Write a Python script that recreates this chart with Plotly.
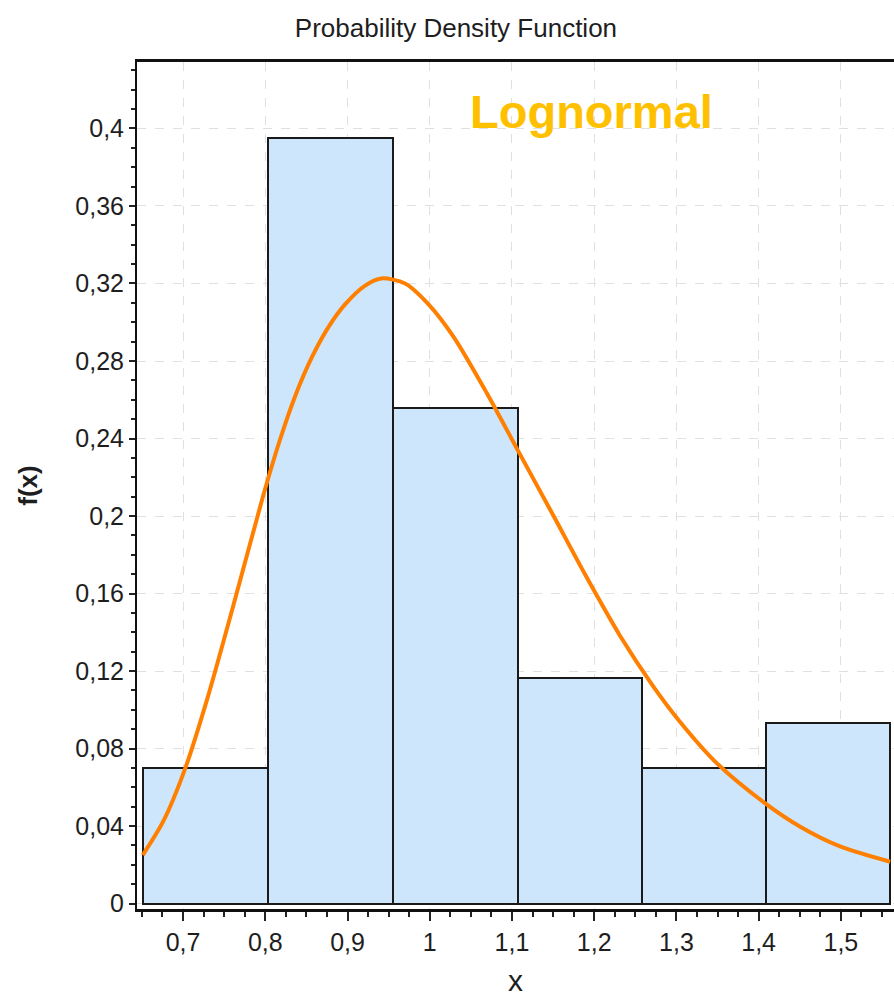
import numpy as np
import plotly.graph_objects as go

# Histogram: bin edges and relative frequencies
bin_edges = [0.651, 0.803, 0.955, 1.107, 1.258, 1.409, 1.560]
bar_heights = [0.0698, 0.3953, 0.2558, 0.1163, 0.0698, 0.0930]

# Fitted lognormal density, sampled along x
curve_x = [0.651, 0.676, 0.702, 0.729, 0.761, 0.797, 0.817, 0.837, 0.857,
           0.877, 0.897, 0.921, 0.941, 0.970, 0.998, 1.029, 1.070, 1.107,
           1.150, 1.190, 1.231, 1.272, 1.304, 1.349, 1.408, 1.450, 1.499, 1.560]
curve_y = [0.025, 0.0425, 0.069, 0.105, 0.1536, 0.2098, 0.2382, 0.2626, 0.2822,
           0.2976, 0.3092, 0.3188, 0.3226, 0.3200, 0.3095, 0.2925, 0.263, 0.234,
           0.2005, 0.169, 0.1385, 0.112, 0.094, 0.0725, 0.0517, 0.0398, 0.0295, 0.0216]

x_tick_vals = [0.7, 0.8, 0.9, 1.0, 1.1, 1.2, 1.3, 1.4, 1.5]
x_tick_labels = ["0,7", "0,8", "0,9", "1", "1,1", "1,2", "1,3", "1,4", "1,5"]
y_tick_vals = [0, 0.04, 0.08, 0.12, 0.16, 0.2, 0.24, 0.28, 0.32, 0.36, 0.4]
y_tick_labels = ["0", "0,04", "0,08", "0,12", "0,16", "0,2", "0,24", "0,28", "0,32", "0,36", "0,4"]

edges = np.array(bin_edges)
centers = (edges[:-1] + edges[1:]) / 2
widths = np.diff(edges)

SANS = "Liberation Sans, Arial, sans-serif"
TEXT = "#1e1e1e"

fig = go.Figure()
fig.add_trace(go.Bar(
    x=centers, y=bar_heights, width=widths,
    marker=dict(color="#cde6fb", line=dict(color="#1a1a1a", width=2)),
    showlegend=False,
))
fig.add_trace(go.Scatter(
    x=curve_x, y=curve_y, mode="lines",
    line=dict(color="#ff7f00", width=4, shape="spline", smoothing=0.8),
    showlegend=False,
))

grid = dict(showgrid=True, gridcolor="#e0e0e0", gridwidth=1, griddash="dash")

fig.update_layout(
    width=894, height=1001,
    margin=dict(l=137, r=0, t=62, b=92),
    paper_bgcolor="white", plot_bgcolor="white",
    separators=", ",
    bargap=0,
    title=dict(text="Probability Density Function", x=0.51, xanchor="center",
               y=0.972, yanchor="middle",
               font=dict(family=SANS, size=26, color=TEXT)),
    xaxis=dict(
        range=[0.644, 1.5646], tickvals=x_tick_vals, ticktext=x_tick_labels,
        ticks="outside", ticklen=9, tickwidth=1.5, tickcolor="#222",
        tickfont=dict(family=SANS, size=25, color=TEXT),
        minor=dict(dtick=0.025, tick0=0.65, ticks="outside", ticklen=5,
                   tickcolor="#222", tickwidth=1.5, showgrid=False),
        showline=True, linecolor="#111", linewidth=2.5, mirror=True,
        zeroline=False,
        title=dict(text="x", font=dict(family=SANS, size=30, color=TEXT), standoff=16),
        **grid,
    ),
    yaxis=dict(
        range=[-0.0028, 0.4343], tickvals=y_tick_vals, ticktext=y_tick_labels,
        ticks="outside", ticklen=6, tickwidth=1.5, tickcolor="#222",
        tickfont=dict(family=SANS, size=25, color=TEXT),
        minor=dict(dtick=0.01, tick0=0, ticks="outside", ticklen=4,
                   tickcolor="#222", tickwidth=1.5, showgrid=False),
        showline=True, linecolor="#111", linewidth=2, mirror=False,
        zeroline=False,
        title=dict(text="<b>f(x)</b>", font=dict(family=SANS, size=26, color=TEXT),
                   standoff=30),
        **grid,
    ),
    annotations=[dict(
        text="<b>Lognormal</b>", xref="paper", yref="paper",
        x=0.601, y=0.942, xanchor="center", yanchor="middle", showarrow=False,
        font=dict(family=SANS, size=47, color="#ffc000"),
    )],
)

fig.write_html("out.html")
